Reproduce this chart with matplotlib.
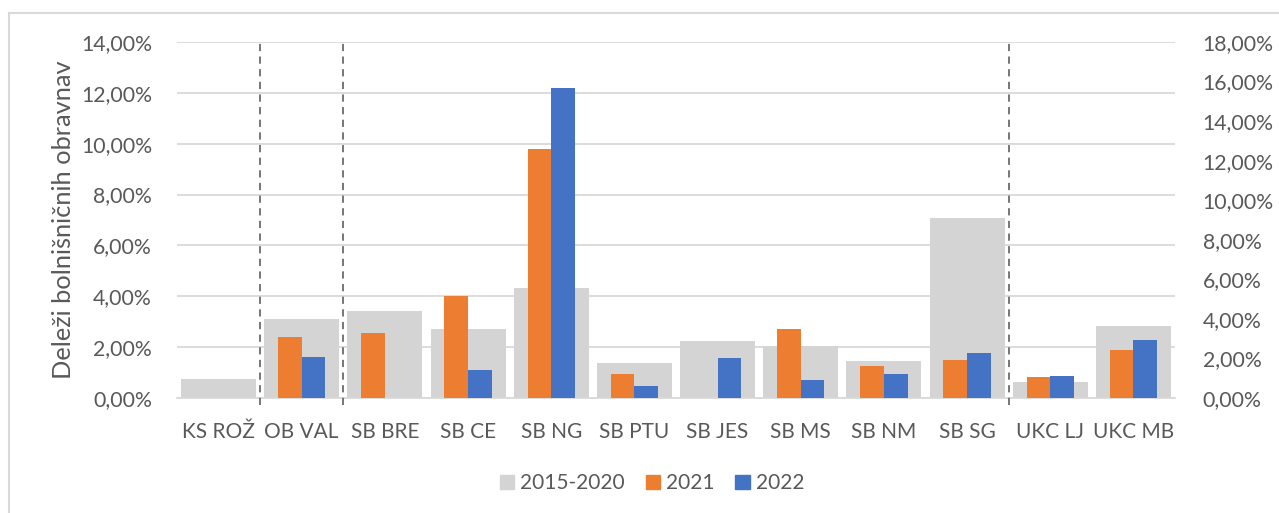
import matplotlib
matplotlib.use("Agg")
import matplotlib.pyplot as plt
from matplotlib.ticker import FuncFormatter, MultipleLocator
from matplotlib.lines import Line2D
from matplotlib.patches import Patch
import numpy as np

categories = ["KS ROŽ", "OB VAL", "SB BRE", "SB CE", "SB NG", "SB PTU", "SB JES",
              "SB MS", "SB NM", "SB SG", "UKC LJ", "UKC MB"]
# 2015-2020 (left axis, %)
s_2015_2020 = [0.76, 3.11, 3.43, 2.70, 4.32, 1.37, 2.23, 2.04, 1.44, 7.07, 0.62, 2.82]
# 2021 and 2022 (right axis, %)
s_2021 = [0.0, 3.06, 3.31, 5.18, 12.59, 1.20, 0.0, 3.48, 1.60, 1.94, 1.06, 2.41]
s_2022 = [0.0, 2.06, 0.0, 1.40, 15.66, 0.63, 2.01, 0.90, 1.23, 2.26, 1.10, 2.92]
separators = [0.5, 1.5, 9.5]
labels = ["2015-2020", "2021", "2022"]

GRAY = "#d4d4d4"
ORANGE = "#ED7D31"
BLUE = "#4472C4"
TXT = "#595959"
GRID = "#d9d9d9"

plt.rcParams["font.family"] = ["Lato", "DejaVu Sans"]
FS = 15.3

fig = plt.figure(figsize=(12.79, 5.13), dpi=100)
ax = fig.add_axes([177/1279, 1-398/513, (1175-177)/1279, (398-42)/513])
ax2 = ax.twinx()

x = np.arange(len(categories))
ax.bar(x, s_2015_2020, width=0.9, color=GRAY, zorder=2)
bw = 0.285
ax2.bar(x - bw/2, s_2021, width=bw, color=ORANGE, zorder=3)
ax2.bar(x + bw/2, s_2022, width=bw, color=BLUE, zorder=3)

ax.set_xlim(-0.5, len(categories) - 0.5)
ax.set_ylim(0, 14)
ax2.set_ylim(0, 18)
ax.yaxis.set_major_locator(MultipleLocator(2))
ax2.yaxis.set_major_locator(MultipleLocator(2))
fmt = FuncFormatter(lambda v, p: f"{v:.2f}%".replace(".", ","))
ax.yaxis.set_major_formatter(fmt)
ax2.yaxis.set_major_formatter(fmt)

ax.grid(axis="y", color=GRID, linewidth=1.3, zorder=0)
ax.set_axisbelow(True)

for s in separators:
    ax2.plot([s, s], [-0.35, 18], color="#6b6b6b", linestyle=(0, (4, 3)),
             linewidth=1.3, zorder=4, clip_on=False)

for a in (ax, ax2):
    for sp in a.spines.values():
        sp.set_visible(False)
    a.tick_params(axis="both", length=0, labelsize=FS, labelcolor=TXT)
ax.spines["bottom"].set_visible(True)
ax.spines["bottom"].set_color(GRID)
ax.spines["bottom"].set_linewidth(1.3)
ax2.patch.set_visible(False)

ax.set_xticks(x)
ax.set_xticklabels(categories)
ax.tick_params(axis="x", pad=17, labelsize=15)
ax.tick_params(axis="y", pad=18)
ax2.tick_params(axis="y", pad=20)

ax.set_ylabel("Deleži bolnišničnih obravnav", fontsize=18.3, color=TXT, labelpad=4)

handles = [Patch(color=GRAY), Patch(color=ORANGE), Patch(color=BLUE)]
fig.legend(handles, labels, loc="center", bbox_to_anchor=(652/1279, 1-483/513), ncol=3,
           frameon=False, fontsize=15, labelcolor=TXT, handlelength=0.68,
           handleheight=0.68, handletextpad=0.3, columnspacing=1.0)

fig.add_artist(Line2D([9/1279, 9/1279], [0, 1-13/513], color=GRID, linewidth=1.5))
fig.add_artist(Line2D([9/1279, 1], [1-13/513, 1-13/513], color=GRID, linewidth=1.5))

fig.savefig("out.png", dpi=100)
